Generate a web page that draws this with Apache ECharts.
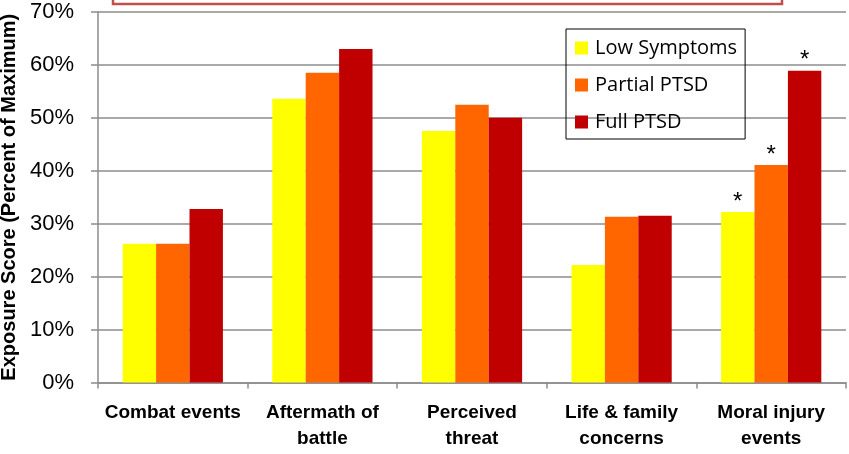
<!DOCTYPE html>
<html>
<head>
<meta charset="utf-8">
<script src="https://cdn.jsdelivr.net/npm/echarts@6/dist/echarts.min.js"></script>
<style>
  html, body { margin: 0; padding: 0; background: #fff; }
  #chart { width: 849px; height: 454px; }
</style>
</head>
<body>
<div id="chart"></div>
<script>
// categories and values (percent of maximum)
const categories = ['Combat events', 'Aftermath of\nbattle', 'Perceived\nthreat', 'Life & family\nconcerns', 'Moral injury\nevents']
const lowSymptoms = [26.2, 53.6, 47.5, 22.2, 32.2]
const partialPtsd = [26.2, 58.5, 52.5, 31.3, 41.1]
const fullPtsd = [32.8, 63.0, 50.0, 31.5, 58.9]
// which bars carry a significance star
const starLow = [false, false, false, false, true]
const starPartial = [false, false, false, false, true]
const starFull = [false, false, false, false, true]

const FONT = '"Liberation Sans", Arial, sans-serif'

const withStars = (values, stars) =>
  values.map((v, i) => (stars[i]
    ? { value: v, label: { show: true, formatter: '*' } }
    : v))

const chart = echarts.init(document.getElementById('chart'))

const barSeries = (name, color, values, stars) => ({
  name,
  type: 'bar',
  barGap: '0%',
  barCategoryGap: '33%',
  itemStyle: { color },
  label: {
    show: false,
    position: 'top',
    distance: -2,
    color: '#000',
    fontSize: 24,
    fontFamily: FONT
  },
  data: withStars(values, stars)
})

chart.setOption({
  animation: false,
  grid: { left: 98, right: 3, top: 12, bottom: 71.5, outerBoundsMode: 'none', containLabel: false },
  legend: {
    orient: 'vertical',
    left: 566,
    top: 29,
    padding: [7, 8, 5, 9],
    itemGap: 13,
    itemWidth: 13,
    itemHeight: 13,
    itemStyle: { borderWidth: 0 },
    icon: 'rect',
    borderColor: '#000',
    borderWidth: 1,
    textStyle: { fontSize: 20, fontFamily: 'Open Sans', color: '#000', lineHeight: 24, padding: [0, 0, 0, 2] },
    data: ['Low Symptoms', 'Partial PTSD', 'Full PTSD']
  },
  xAxis: {
    type: 'category',
    data: categories,
    axisLine: { lineStyle: { color: '#8c8c8c', width: 1.5 } },
    axisTick: { show: true, length: 6, lineStyle: { color: '#8c8c8c', width: 1.5 } },
    axisLabel: {
      margin: 17,
      interval: 0,
      color: '#000',
      fontWeight: 'bold',
      fontSize: 19,
      lineHeight: 26,
      fontFamily: FONT
    }
  },
  yAxis: {
    type: 'value',
    min: 0,
    max: 70,
    interval: 10,
    name: 'Exposure Score (Percent of Maximum)',
    nameLocation: 'middle',
    nameGap: 70,
    nameTextStyle: { fontWeight: 'bold', fontSize: 20, color: '#000', fontFamily: FONT },
    axisLine: { show: true, lineStyle: { color: '#8c8c8c', width: 1.5 } },
    axisTick: { show: true, length: 7, lineStyle: { color: '#8c8c8c', width: 1.5 } },
    splitLine: { lineStyle: { color: '#8c8c8c', width: 1.5 } },
    axisLabel: {
      margin: 24,
      color: '#000',
      fontSize: 22,
      fontFamily: FONT,
      formatter: (v) => `${v}%`
    }
  },
  graphic: [{
    type: 'rect',
    shape: { x: 113, y: -6, width: 669, height: 10 },
    style: { fill: 'none', stroke: '#c0504d', lineWidth: 2.5 }
  }],
  series: [
    barSeries('Low Symptoms', '#ffff00', lowSymptoms, starLow),
    barSeries('Partial PTSD', '#ff6600', partialPtsd, starPartial),
    barSeries('Full PTSD', '#c00000', fullPtsd, starFull)
  ]
})
</script>
</body>
</html>
